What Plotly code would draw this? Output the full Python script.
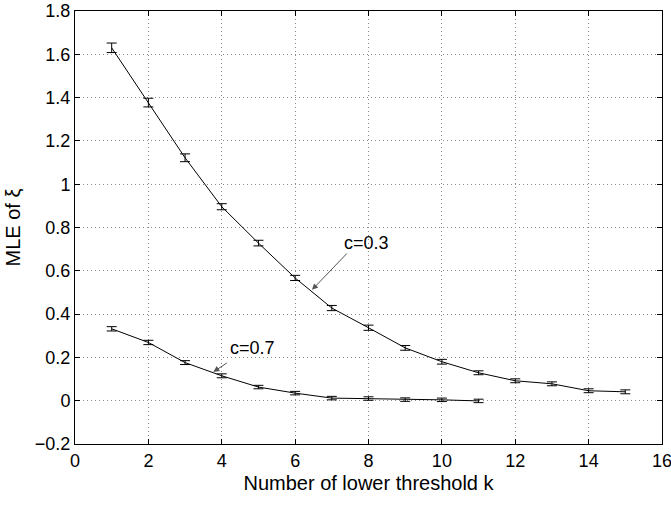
import plotly.graph_objects as go

k_03 = list(range(1, 16))
mle_03 = [1.63, 1.377, 1.122, 0.896, 0.728, 0.567, 0.428, 0.337, 0.244, 0.18, 0.129, 0.092, 0.078, 0.046, 0.041]
err_03 = [0.022, 0.02, 0.018, 0.014, 0.013, 0.012, 0.012, 0.012, 0.011, 0.011, 0.009, 0.009, 0.009, 0.009, 0.009]

k_07 = list(range(1, 12))
mle_07 = [0.332, 0.269, 0.176, 0.115, 0.063, 0.035, 0.012, 0.01, 0.005, 0.004, -0.001]
err_07 = [0.01, 0.01, 0.009, 0.009, 0.008, 0.008, 0.008, 0.008, 0.008, 0.008, 0.008]

y_ticks = [-0.2, 0, 0.2, 0.4, 0.6, 0.8, 1.0, 1.2, 1.4, 1.6, 1.8]
y_labels = ["\u22120.2", "0", "0.2", "0.4", "0.6", "0.8", "1", "1.2", "1.4", "1.6", "1.8"]
x_ticks = [0, 2, 4, 6, 8, 10, 12, 14, 16]

fig = go.Figure()
for k, m, e in [(k_03, mle_03, err_03), (k_07, mle_07, err_07)]:
    fig.add_trace(go.Scatter(
        x=k, y=m, mode="lines",
        line=dict(color="black", width=1),
        error_y=dict(type="data", array=e, visible=True, color="black", thickness=1, width=5),
        showlegend=False,
    ))

fig.add_annotation(x=6.46, y=0.512, ax=7.45, ay=0.687, xref="x", yref="y", axref="x", ayref="y",
                   text="", showarrow=True, arrowhead=2, arrowsize=1.2, arrowwidth=1, arrowcolor="#555555")
fig.add_annotation(x=7.95, y=0.73, text="c=0.3", showarrow=False, font=dict(size=18, color="black"))
fig.add_annotation(x=3.77, y=0.133, ax=4.18, ay=0.179, xref="x", yref="y", axref="x", ayref="y",
                   text="", showarrow=True, arrowhead=2, arrowsize=1.2, arrowwidth=1, arrowcolor="#555555")
fig.add_annotation(x=4.83, y=0.242, text="c=0.7", showarrow=False, font=dict(size=18, color="black"))

axis_common = dict(
    showline=True, linecolor="black", linewidth=1, mirror="ticks",
    ticks="inside", ticklen=5, tickcolor="black",
    showgrid=True, gridcolor="#8a8a8a", griddash="1px,3px", gridwidth=1,
    zeroline=False, tickfont=dict(size=18, color="black"), automargin=False,
    ticklabeloverflow="allow",
)
fig.update_xaxes(range=[0, 16], tickvals=x_ticks,
                 title=dict(text="Number of lower threshold k", font=dict(size=20, color="black"), standoff=6),
                 **axis_common)
fig.update_yaxes(range=[-0.2, 1.8], tickvals=y_ticks, ticktext=y_labels,
                 title=dict(text="MLE of \u03be", font=dict(size=20, color="black"), standoff=8),
                 **axis_common)
fig.update_layout(
    width=671, height=505,
    margin=dict(l=75, r=9, t=11, b=61),
    plot_bgcolor="white", paper_bgcolor="white",
    font=dict(family="Liberation Sans, Arial, sans-serif", color="black"),
)
fig.write_html("out.html")
